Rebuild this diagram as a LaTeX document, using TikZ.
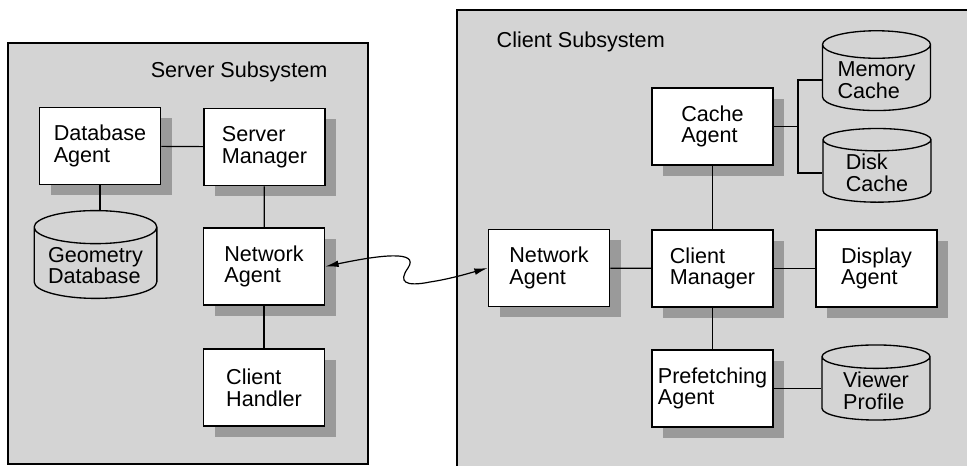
\documentclass[tikz,border=0pt]{standalone}
\usepackage{fontspec}
\setmainfont{Liberation Sans}
\usepackage{tikz}
\usetikzlibrary{shapes.geometric,arrows.meta,positioning}
\usepackage{xcolor}
\definecolor{panelgrey}{HTML}{D4D4D4}
\definecolor{shadegrey}{HTML}{9A9A9A}
\tikzstyle{panel}=[draw=black, fill=panelgrey, line width=2.2pt]
\tikzstyle{agent}=[rectangle, draw=black, fill=white, line width=1.2pt, minimum width=90.75pt, minimum height=57.75pt, inner sep=2pt, align=left, font=\fontsize{16.2}{16.3}\selectfont, preaction={draw=none, fill=shadegrey, transform canvas={shift={(8.5pt,-8pt)}}}]
\tikzstyle{store}=[cylinder, shape border rotate=90, draw=black, line width=1pt, aspect=0.33, inner sep=2pt, align=left, font=\fontsize{16.2}{16.3}\selectfont]
\tikzstyle{l1}=[line width=0.9pt]
\tikzstyle{wire}=[l1, {Latex[length=10pt,width=5pt]}-{Latex[length=10pt,width=5pt]}]

\begin{document}
\begin{tikzpicture}[x=0.75pt,y=-0.75pt]
    \clip (0,0) rectangle (967,466);
    \draw[panel] (8,43) rectangle (368,464);
    \draw[panel] (457,10) rectangle (990,490);
    \node[anchor=base east, font=\fontsize{16.2}{16.3}\selectfont] (srvtitle) at (332,78) {Server Subsystem};
    \node[anchor=base west, font=\fontsize{16.2}{16.3}\selectfont] (clititle) at (492,48) {Client Subsystem};

    % server side
    \node[agent] (dba)  at (100,146)   {Database\\Agent};
    \node[agent] (smgr) at (264.5,147) {Server\\Manager};
    \node[agent] (sna)  at (264,266.5) {Network\\Agent};
    \node[agent] (chd)  at (264,387.5) {Client\\Handler};
    \node[store, minimum width=92pt, minimum height=64pt] (geo) at (95.5,265.5) {Geometry\\Database};
    \draw[l1] (dba) -- (smgr);
    \draw[l1] (dba.south) -- (dba.south |- geo.north);
    \draw[l1] (smgr) -- (sna);
    \draw[l1] (sna) -- (chd);

    % client side
    \node[agent] (cache) at (712.5,126.5) {Cache\\Agent};
    \node[agent] (cna)   at (549,268)     {Network\\Agent};
    \node[agent] (cmgr)  at (712.5,268.5) {Client\\Manager};
    \node[agent] (disp)  at (876.5,268.5) {Display\\Agent};
    \node[agent] (pref)  at (712.5,388.5) {Prefetching\\Agent};
    \node[store, minimum width=81pt, minimum height=52pt] (mem)  at (876.5,80)  {Memory\\Cache};
    \node[store, minimum width=81pt, minimum height=52pt] (disk) at (877,173)   {Disk\\Cache};
    \node[store, minimum width=81pt, minimum height=56pt] (view) at (876,390.5) {Viewer\\Profile};
    \coordinate (fork) at (798,126.5);
    \draw[l1] (cache.east) -- (fork);
    \draw[l1] (mem.west) -| (fork) |- (disk.west);
    \draw[l1] (cache) -- (cmgr);
    \draw[l1] (cmgr) -- (pref);
    \draw[l1] (cna) -- (cmgr);
    \draw[l1] (cmgr) -- (disp);
    \draw[l1] (pref.east) -- (pref.east -| view.west);

    % link between the two network agents
    \draw[wire] (sna.east) .. controls (380,255) and (420,250) .. (408,268)
        .. controls (398,282) and (405,287) .. (430,282)
        .. controls (450,279) and (470,273) .. (cna.west);
\end{tikzpicture}
\end{document}
